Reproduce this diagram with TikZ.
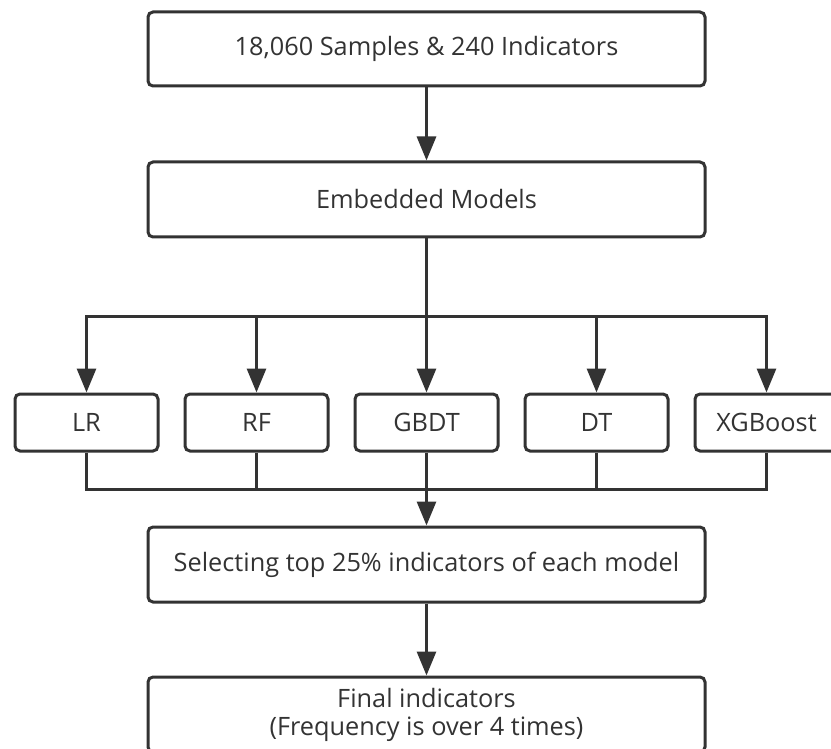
\documentclass[tikz,border=0pt]{standalone}
\usepackage{fontspec}
\setmainfont{Open Sans}
\usepackage{xcolor}
\usepackage{tikz}
\usetikzlibrary{arrows.meta,positioning}
\definecolor{ink}{HTML}{333333}

\begin{document}
\begin{tikzpicture}[x=1pt,y=-1pt,
  box/.style={draw=ink, line width=3pt, rounded corners=5pt, fill=white, text=ink,
    font=\fontsize{25.3}{28}\selectfont, align=center, inner sep=0pt},
  widebox/.style={box, minimum width=557pt, minimum height=75pt},
  modelbox/.style={box, minimum width=143pt, minimum height=57pt},
  link/.style={draw=ink, line width=3pt},
  arr/.style={link, -{Triangle[width=19pt,length=24pt]}}]
\useasboundingbox (0,0) rectangle (831,749);

% main flow
\node[widebox, minimum height=74pt] (data) at (426.5,49) {18,060 Samples \& 240 Indicators};
\node[widebox] (emb) at (426.5,199.5) {Embedded Models};

% models
\node[modelbox] (lr) at (86.5,422.5) {LR};
\node[modelbox] (rf) at (256.5,422.5) {RF};
\node[modelbox] (gbdt) at (426.5,422.5) {GBDT};
\node[modelbox] (dt) at (596.5,422.5) {DT};
\node[modelbox] (xgb) at (766.5,422.5) {XGBoost};

% selection and result
\node[widebox] (sel) at (426.5,564.5) {Selecting top 25\% indicators of each model};
\node[widebox] (fin) at (426.5,714.5) {Final indicators\\(Frequency is over 4 times)};

% branch points
\coordinate (split) at (426.5,316);
\coordinate (join) at (426.5,489);

% connectors
\draw[arr] (data) -- (emb);
\draw[link] (emb) -- (split);
\foreach \m in {lr,rf,gbdt,dt,xgb} {
  \draw[arr] (split) -| (\m);
  \draw[link] (\m) |- (join);
}
\draw[arr] (join) -- (sel);
\draw[arr] (sel) -- (fin);
\end{tikzpicture}
\end{document}
